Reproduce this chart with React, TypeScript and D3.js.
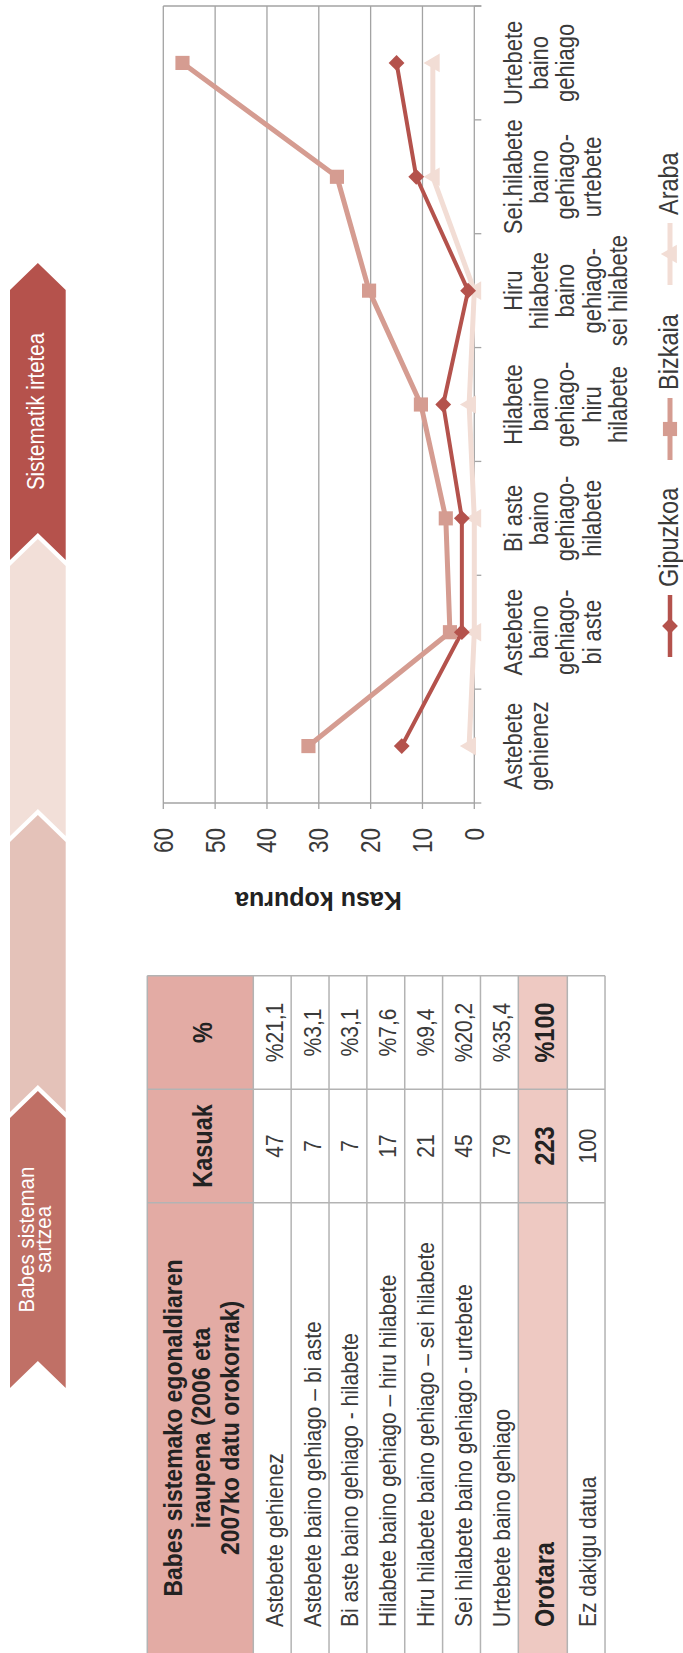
import React from 'react';
import * as d3 from 'd3';

const W = 683;
const H = 1653;
const FONT = '"Liberation Sans", Arial, Helvetica, sans-serif';

// ---------- chart data ----------
const categories: string[][] = [
  ['Astebete', 'gehienez'],
  ['Astebete', 'baino', 'gehiago-', 'bi aste'],
  ['Bi aste', 'baino', 'gehiago-', 'hilabete'],
  ['Hilabete', 'baino', 'gehiago-', 'hiru', 'hilabete'],
  ['Hiru', 'hilabete', 'baino', 'gehiago-', 'sei hilabete'],
  ['Sei.hilabete', 'baino', 'gehiago-', 'urtebete'],
  ['Urtebete', 'baino', 'gehiago'],
];
const gipuzkoa = [14, 2.4, 2.4, 6, 1.2, 11.2, 15];
const bizkaia = [32, 4.7, 5.5, 10.3, 20.3, 26.5, 56.3];
const araba = [1, 0, 0, 1, 0, 8, 8];
const seriesNames = ['Gipuzkoa', 'Bizkaia', 'Araba'];
const valueTicks = [0, 10, 20, 30, 40, 50, 60];
const axisTitle = 'Kasu kopurua';

// ---------- table data ----------
const tableHeader = ['Babes sistemako egonaldiaren', 'iraupena (2006 eta', '2007ko datu orokorrak)'];
const colHeaders = ['Kasuak', '%'];
const rowLabels = [
  'Astebete gehienez',
  'Astebete baino gehiago – bi aste',
  'Bi aste baino gehiago - hilabete',
  'Hilabete baino gehiago – hiru hilabete',
  'Hiru hilabete baino gehiago – sei hilabete',
  'Sei hilabete baino gehiago - urtebete',
  'Urtebete baino gehiago',
];
const rowCases = [47, 7, 7, 17, 21, 45, 79];
const rowPcts = ['%21,1', '%3,1', '%3,1', '%7,6', '%9,4', '%20,2', '%35,4'];
const totalRow = ['Orotara', '223', '%100'];
const unknownRow = ['Ez dakigu datua', '100', ''];

// ---------- banner data ----------
const stages: string[][] = [['Babes sisteman', 'sartzea'], [], [], ['Sistematik irtetea']];
const stageColors = ['#c07066', '#e4c2b9', '#f2dfd8', '#b5524c'];
const seriesColors = ['#b4524c', '#d59c91', '#f2ddd5'];

type TP = {
  u: number; v: number; lines: string[]; size: number; lh?: number;
  anchor?: string; weight?: number | string; fill?: string; sy?: number;
};
const T = ({ u, v, lines, size, lh = 0, anchor = 'middle', weight = 400, fill = '#444', sy = 1.18 }: TP) => (
  <text
    transform={`translate(${u},${v}) scale(1,${sy})`}
    fontSize={size}
    textAnchor={anchor}
    fontWeight={weight}
    fill={fill}
    fontFamily={FONT}
  >
    {lines.map((l, i) => (
      <tspan key={i} x={0} y={(i * lh) / sy}>
        {l}
      </tspan>
    ))}
  </text>
);

export default function App() {
  // landscape frame: u horizontal (0..H), v vertical (0..W); rotated -90deg onto page
  const x = d3.scaleBand<number>().domain(d3.range(categories.length)).range([850, 1647]);
  const y = d3.scaleLinear().domain([0, 60]).range([474.3, 163.3]);
  const cx = (i: number) => (x(i) as number) + x.bandwidth() / 2;
  const line = d3
    .line<number>()
    .x((_, i) => cx(i))
    .y((d) => y(d));

  const gridColor = '#a3a3a3';
  const series = [gipuzkoa, bizkaia, araba];

  const diamond = d3.symbol().type(d3.symbolSquare).size(125)() as string;
  const square = d3.symbol().type(d3.symbolSquare).size(200)() as string;
  const triangle = d3.symbol().type(d3.symbolTriangle).size(150)() as string;
  const markerFor = (k: number, u: number, v: number, key: string | number) => {
    if (k === 0)
      return <path key={key} d={diamond} transform={`translate(${u},${v}) rotate(45)`} fill={seriesColors[0]} />;
    if (k === 1) return <path key={key} d={square} transform={`translate(${u},${v})`} fill={seriesColors[1]} />;
    return <path key={key} d={triangle} transform={`translate(${u},${v + 1.5})`} fill={seriesColors[2]} />;
  };

  // banner geometry
  const bStart = 265;
  const bLen = 270;
  const bGap = 6;
  const bD = 27;
  const bv0 = 10;
  const bv1 = 65.7;
  const bvm = (bv0 + bv1) / 2;

  // table geometry
  const colU = [-5, 450.3, 563.7, 677.3];
  const headTop = 147.3;
  const headBot = 253.3;
  const rowH = 37.86;
  const totH = 49;
  const lastH = 37.7;
  const rowV = [headTop, headBot];
  rowLabels.forEach(() => rowV.push(rowV[rowV.length - 1] + rowH));
  rowV.push(rowV[rowV.length - 1] + totH);
  rowV.push(rowV[rowV.length - 1] + lastH);
  const totTop = rowV[rowV.length - 3];
  const lastTop = rowV[rowV.length - 2];
  const colMid = [225, (colU[1] + colU[2]) / 2, (colU[2] + colU[3]) / 2];

  // legend layout
  const legendStarts = [996, 1193, 1368];
  const legendV = 670;

  return (
    <svg width={W} height={H} style={{ position: 'absolute', left: 0, top: 0, background: '#fff' }}>
      <rect x={0} y={0} width={W} height={H} fill="#fff" />
      <g transform={`translate(0,${H}) rotate(-90)`}>
        {/* banner */}
        {stages.map((lab, i) => {
          const t = bStart + i * (bLen + bGap);
          const h = t + bLen;
          const pts = [
            [t, bv0],
            [h, bv0],
            [h + bD, bvm],
            [h, bv1],
            [t, bv1],
            [t + bD, bvm],
          ];
          const mid = (t + bD + h) / 2;
          return (
            <g key={i}>
              <polygon points={pts.map((p) => p.join(',')).join(' ')} fill={stageColors[i]} />
              {lab.length === 1 && <T u={mid} v={43.5} lines={lab} size={20.5} fill="#fff" sy={1.15} />}
              {lab.length === 2 && <T u={mid} v={34} lines={lab} size={20.5} lh={16.5} fill="#fff" sy={1.08} />}
            </g>
          );
        })}

        {/* gridlines */}
        {valueTicks.map((t) => (
          <line key={t} x1={850} x2={1647} y1={y(t)} y2={y(t)} stroke={gridColor} strokeWidth={1.3} />
        ))}
        {/* plot borders / axes */}
        <line x1={850} x2={850} y1={y(60)} y2={y(0)} stroke={gridColor} strokeWidth={1.3} />
        <line x1={1647} x2={1647} y1={y(60)} y2={y(0) + 7} stroke={gridColor} strokeWidth={1.3} />
        {valueTicks.map((t) => (
          <line key={'vt' + t} x1={844} x2={850} y1={y(t)} y2={y(t)} stroke={gridColor} strokeWidth={1.3} />
        ))}
        {d3.range(categories.length + 1).map((i) => {
          const u = 850 + i * x.bandwidth();
          return <line key={'ct' + i} x1={u} x2={u} y1={y(0)} y2={y(0) + 7} stroke={gridColor} strokeWidth={1.3} />;
        })}

        {/* value tick labels */}
        {valueTicks.map((t) => (
          <T key={'vl' + t} u={825} v={y(t) + 9.5} lines={[String(t)]} size={22.5} anchor="end" fill="#3a3a3a" sy={1.2} />
        ))}
        {/* axis title */}
        <text
          transform={`translate(752,318.5) rotate(-90)`}
          textAnchor="middle"
          dominantBaseline="central"
          fontSize={25}
          fontWeight={700}
          fill="#222"
          fontFamily={FONT}
        >
          {axisTitle}
        </text>

        {/* category labels */}
        {categories.map((c, i) => (
          <T key={'cl' + i} u={cx(i)} v={522} lines={c} size={22} lh={26.2} fill="#3a3a3a" sy={1.18} />
        ))}

        {/* series lines */}
        {[2, 1, 0].map((k) => (
          <path
            key={'s' + k}
            d={line(series[k]) as string}
            fill="none"
            stroke={seriesColors[k]}
            strokeWidth={k === 0 ? 4 : 5}
            strokeLinejoin="round"
          />
        ))}
        {[2, 1, 0].map((k) => series[k].map((d, i) => markerFor(k, cx(i), y(d), `m${k}-${i}`)))}

        {/* legend */}
        {seriesNames.map((n, k) => {
          const s = legendStarts[k];
          return (
            <g key={'lg' + k}>
              <line x1={s} x2={s + 62} y1={legendV} y2={legendV} stroke={seriesColors[k]} strokeWidth={k === 0 ? 4.5 : 5} />
              {markerFor(k, s + 31, legendV, 'lm' + k)}
              <T u={s + 70} v={677.5} lines={[n]} size={23.5} anchor="start" fill="#3a3a3a" sy={1.15} />
            </g>
          );
        })}

        {/* table fills */}
        <rect x={colU[0]} y={headTop} width={colU[3] - colU[0]} height={headBot - headTop} fill="#e3aba4" />
        <rect x={colU[0]} y={totTop} width={colU[3] - colU[0]} height={totH} fill="#eec9c2" />
        {/* table lines */}
        {rowV.map((v, i) => (
          <line key={'rv' + i} x1={colU[0]} x2={colU[3]} y1={v} y2={v} stroke="#b3b3b3" strokeWidth={1.5} />
        ))}
        {colU.map((u, i) => (
          <line key={'cu' + i} x1={u} x2={u} y1={headTop} y2={rowV[rowV.length - 1]} stroke="#b3b3b3" strokeWidth={1.5} />
        ))}
        {/* table header text */}
        <T u={colMid[0]} v={182} lines={tableHeader} size={23} lh={28.5} weight={700} fill="#222" sy={1.16} />
        {colHeaders.map((h, i) => (
          <T key={'ch' + i} u={colMid[i + 1]} v={211.5} lines={[h]} size={23.5} weight={700} fill="#222" sy={1.16} />
        ))}
        {/* data rows */}
        {rowLabels.map((l, i) => {
          const bv = rowV[i + 1] + 29.4;
          return (
            <g key={'dr' + i}>
              <T u={26} v={bv} lines={[l]} size={21} anchor="start" fill="#3a3a3a" sy={1.18} />
              <T u={colMid[1]} v={bv} lines={[String(rowCases[i])]} size={21} fill="#3a3a3a" sy={1.18} />
              <T u={colMid[2]} v={bv} lines={[rowPcts[i]]} size={21} fill="#3a3a3a" sy={1.18} />
            </g>
          );
        })}
        <T u={26} v={totTop + 35.5} lines={[totalRow[0]]} size={23.5} anchor="start" weight={700} fill="#222" sy={1.16} />
        <T u={colMid[1]} v={totTop + 35.5} lines={[totalRow[1]]} size={23.5} weight={700} fill="#222" sy={1.16} />
        <T u={colMid[2]} v={totTop + 35.5} lines={[totalRow[2]]} size={23.5} weight={700} fill="#222" sy={1.16} />
        <T u={26} v={lastTop + 28.5} lines={[unknownRow[0]]} size={21} anchor="start" fill="#3a3a3a" sy={1.18} />
        <T u={colMid[1]} v={lastTop + 28.5} lines={[unknownRow[1]]} size={21} fill="#3a3a3a" sy={1.18} />
        {unknownRow[2] && <T u={colMid[2]} v={lastTop + 28.5} lines={[unknownRow[2]]} size={21} fill="#3a3a3a" sy={1.18} />}
      </g>
    </svg>
  );
}
